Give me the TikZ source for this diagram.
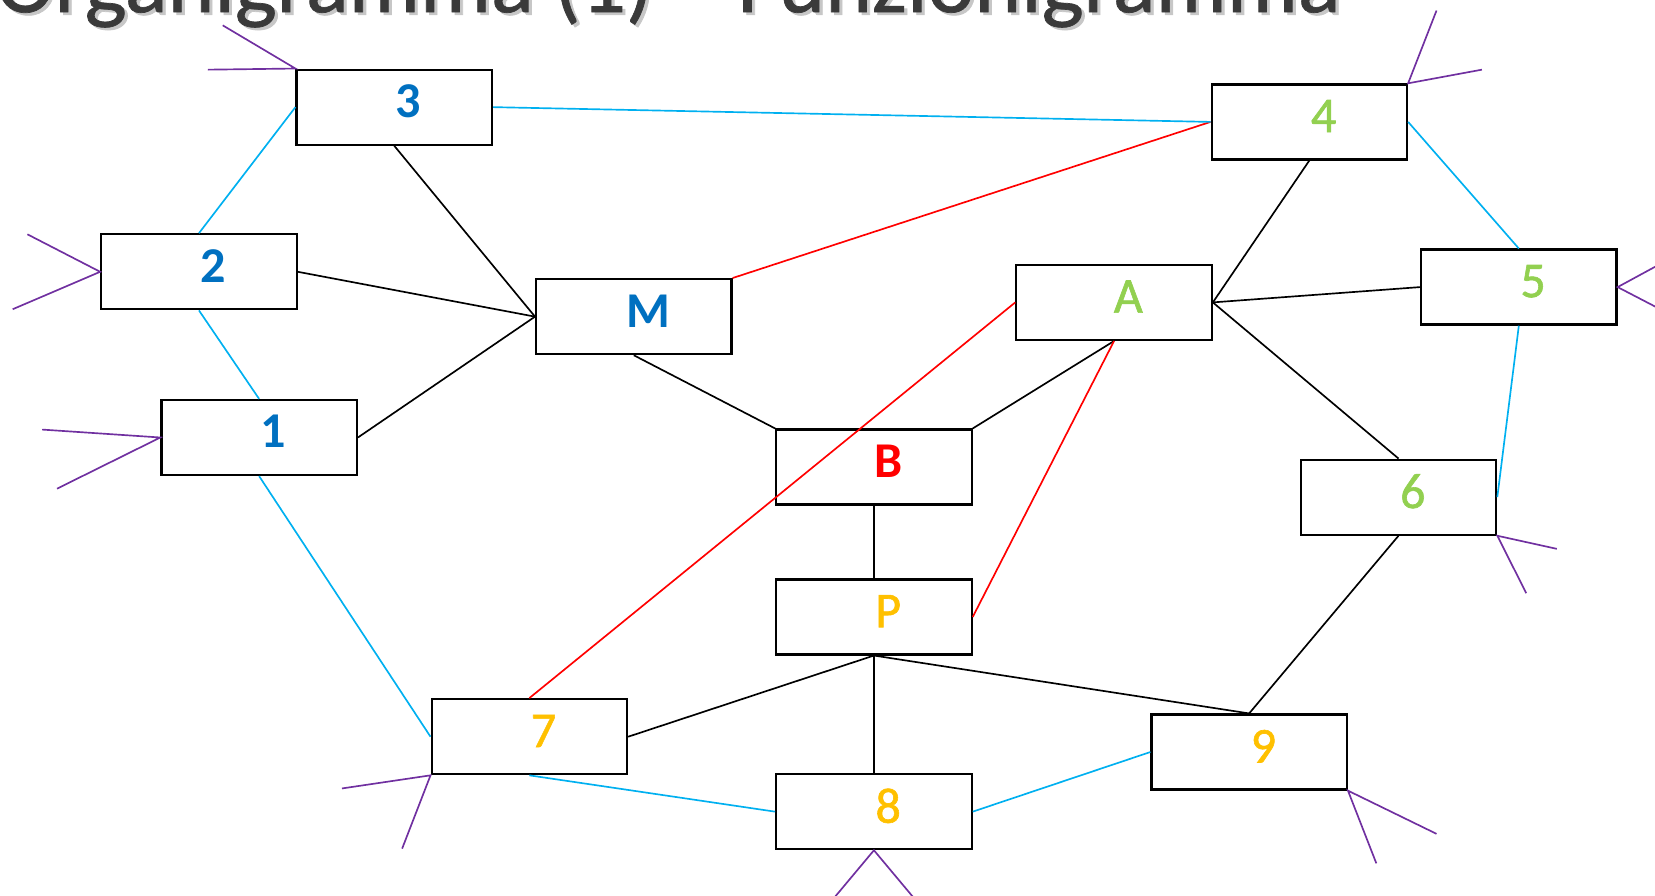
\documentclass[tikz,border=0pt]{standalone}
\usepackage{fontspec}
\setmainfont{Carlito}
\newfontfamily\heavyfont[FakeBold=1.2]{Carlito}
\newfontfamily\titlefont[FakeBold=0.8]{Carlito}
\definecolor{ofblue}{HTML}{0070C0}
\definecolor{ofgreen}{HTML}{92D050}
\definecolor{ofyellow}{HTML}{FFC000}
\definecolor{ofred}{HTML}{FF0000}
\definecolor{ofcyan}{HTML}{00B0F0}
\definecolor{ofpurple}{HTML}{7030A0}
\definecolor{titlegray}{HTML}{3A3A3A}
\tikzset{
  unit/.style={draw=black, line width=0.6pt, minimum width=1.85cm, minimum height=0.71cm, inner sep=0pt},
  lab/.style={inner sep=0pt, font=\fontsize{13.5}{16}\selectfont\heavyfont},
  labbold/.style={inner sep=0pt, font=\fontsize{13.5}{16}\selectfont\bfseries},
  hier/.style={draw=black, line width=0.45pt},
  cross/.style={draw=ofred, line width=0.45pt},
  peer/.style={draw=ofcyan, line width=0.45pt},
  ext/.style={draw=ofpurple, line width=0.45pt},
  headline/.style={anchor=base east, inner sep=0pt, font=\fontsize{24}{28}\selectfont\titlefont},
}
\begin{document}
\begin{tikzpicture}[x=0.01cm, y=-0.01cm]
\useasboundingbox (0,0) rectangle (1568,848);
\clip (0,0) rectangle (1568,848);

% title (only its lower part lies inside the frame)
\node[headline, text=black!22] (titleshadow) at (1274,14) {Organigramma (1) – Funzionigramma};
\node[headline, text=titlegray] (title) at (1271,11.5) {Organigramma (1) – Funzionigramma};

% box centres
\coordinate (c3) at (373.5,101.5);
\coordinate (c4) at (1240.5,115.5);
\coordinate (c2) at (188.5,257.5);
\coordinate (cM) at (600.5,300);
\coordinate (cA) at (1055.5,286.5);
\coordinate (c5) at (1439,272);
\coordinate (c1) at (245.5,414.5);
\coordinate (cB) at (828,442.5);
\coordinate (c6) at (1325,471);
\coordinate (cP) at (828,584.5);
\coordinate (c7) at (501.5,698);
\coordinate (c8) at (828,769);
\coordinate (c9) at (1183.5,712.5);

\node[unit] (b3) at (c3) {};
\node[unit] (b4) at (c4) {};
\node[unit] (b2) at (c2) {};
\node[unit] (bM) at (cM) {};
\node[unit] (bA) at (cA) {};
\node[unit] (b5) at (c5) {};
\node[unit] (b1) at (c1) {};
\node[unit] (bB) at (cB) {};
\node[unit] (b6) at (c6) {};
\node[unit] (bP) at (cP) {};
\node[unit] (b7) at (c7) {};
\node[unit] (b8) at (c8) {};
\node[unit] (b9) at (c9) {};

% hierarchy lines
\draw[hier] (b3.south) -- (bM.west);
\draw[hier] (b2.east) -- (bM.west);
\draw[hier] (b1.east) -- (bM.west);
\draw[hier] (bM.south) -- (bB.north west);
\draw[hier] (bA.south) -- (bB.north east);
\draw[hier] (b4.south) -- (bA.east);
\draw[hier] (b5.west) -- (bA.east);
\draw[hier] (b6.north) -- (bA.east);
\draw[hier] (bB.south) -- (bP.north);
\draw[hier] (bP.south) -- (b7.east);
\draw[hier] (bP.south) -- (b8.north);
\draw[hier] (bP.south) -- (b9.north);
\draw[hier] (b6.south) -- (b9.north);

% functional links
\draw[cross] (bM.north east) -- (b4.west);
\draw[cross] (bA.west) -- (b7.north);
\draw[cross] (bA.south) -- (bP.east);

% peer links
\draw[peer] (b3.east) -- (b4.west);
\draw[peer] (b3.west) -- (b2.north);
\draw[peer] (b2.south) -- (b1.north);
\draw[peer] (b1.south) -- (b7.west);
\draw[peer] (b7.south) -- (b8.west);
\draw[peer] (b8.east) -- (b9.west);
\draw[peer] (b4.east) -- (b5.north);
\draw[peer] (b5.south) -- (b6.east);

% external ties
\coordinate (e3a) at (197,66);   \coordinate (e3b) at (211,24);
\coordinate (e2a) at (26,222);   \coordinate (e2b) at (12,293);
\coordinate (e1a) at (40,407);   \coordinate (e1b) at (54,463);
\coordinate (e4a) at (1361,10);  \coordinate (e4b) at (1404,66);
\coordinate (e5a) at (1575,249); \coordinate (e5b) at (1575,294);
\coordinate (e6a) at (1475,520); \coordinate (e6b) at (1446,562);
\coordinate (e7a) at (324,747);  \coordinate (e7b) at (381,804);
\coordinate (e8a) at (790,851);  \coordinate (e8b) at (866,851);
\coordinate (e9a) at (1361,790); \coordinate (e9b) at (1304,818);
\draw[ext] (e3a) -- (b3.north west) -- (e3b);
\draw[ext] (e2a) -- (b2.west) -- (e2b);
\draw[ext] (e1a) -- (b1.west) -- (e1b);
\draw[ext] (e4a) -- (b4.north east) -- (e4b);
\draw[ext] (e5a) -- (b5.east) -- (e5b);
\draw[ext] (e6a) -- (b6.south east) -- (e6b);
\draw[ext] (e7a) -- (b7.south west) -- (e7b);
\draw[ext] (e8a) -- (b8.south) -- (e8b);
\draw[ext] (e9a) -- (b9.south east) -- (e9b);

% labels
\node[labbold, text=ofblue]   (l3) at ([shift={(13.5,-5.5)}]b3.center) {3};
\node[lab, text=ofgreen]      (l4) at ([shift={(13.5,-5.5)}]b4.center) {4};
\node[labbold, text=ofblue]   (l2) at ([shift={(13.5,-5.5)}]b2.center) {2};
\node[labbold, text=ofblue]   (lM) at ([shift={(13.5,-5.5)}]bM.center) {M};
\node[lab, text=ofgreen]      (lA) at ([shift={(13.5,-5.5)}]bA.center) {A};
\node[lab, text=ofgreen]      (l5) at ([shift={(13.5,-5.5)}]b5.center) {5};
\node[labbold, text=ofblue]   (l1) at ([shift={(13.5,-5.5)}]b1.center) {1};
\node[labbold, text=ofred]    (lB) at ([shift={(13.5,-5.5)}]bB.center) {B};
\node[lab, text=ofgreen]      (l6) at ([shift={(13.5,-5.5)}]b6.center) {6};
\node[lab, text=ofyellow]     (lP) at ([shift={(13.5,-5.5)}]bP.center) {P};
\node[lab, text=ofyellow]     (l7) at ([shift={(13.5,-5.5)}]b7.center) {7};
\node[lab, text=ofyellow]     (l8) at ([shift={(13.5,-5.5)}]b8.center) {8};
\node[lab, text=ofyellow]     (l9) at ([shift={(13.5,-5.5)}]b9.center) {9};
\end{tikzpicture}
\end{document}
